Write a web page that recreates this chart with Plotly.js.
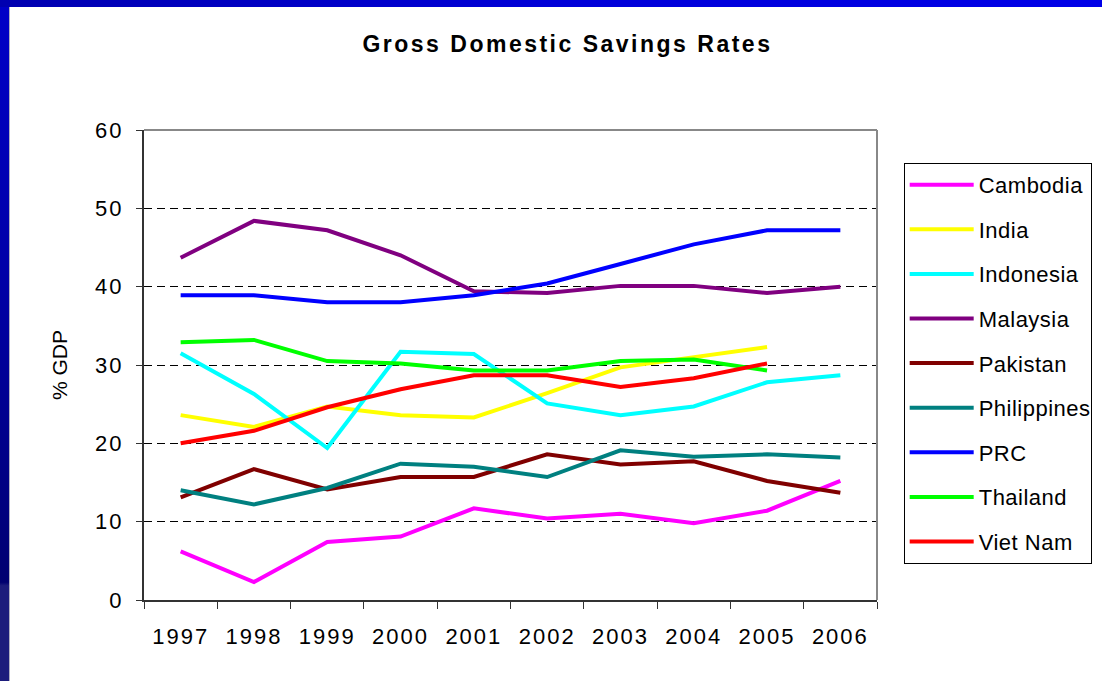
<!DOCTYPE html>
<html>
<head>
<meta charset="utf-8">
<script src="https://cdn.plot.ly/plotly-3.0.1.min.js"></script>
<style>
  html, body { margin: 0; padding: 0; width: 1102px; height: 681px; overflow: hidden; }
  body { background: linear-gradient(to bottom, #0000c8 0%, #0000a8 40%, #000078 80%, #000070 85.5%, #1c1c7c 86%, #1c1c7c 100%); position: relative; }
  #topband { position: absolute; left: 0; top: 0; width: 1102px; height: 7px; background: linear-gradient(to right, #0000b0 0%, #0000d8 50%, #0000e8 100%); }
  #chart { position: absolute; left: 9px; top: 7px; width: 1093px; height: 674px; background: #fff; border-left: 1px solid #b0b0c0; box-sizing: border-box; }
  #chart .xtick text, #chart .ytick text { letter-spacing: 2px; }
  #chart .gtitle { letter-spacing: 2.5px; }
  #chart .legendtext { letter-spacing: 0.5px; }
</style>
</head>
<body>
<div id="topband"></div>
<div id="chart"></div>
<script>
const years = ["1997","1998","1999","2000","2001","2002","2003","2004","2005","2006"];
const seriesNames = ["Cambodia","India","Indonesia","Malaysia","Pakistan","Philippines","PRC","Thailand","Viet Nam"];
const cambodia    = [6.2, 2.3, 7.4, 8.1, 11.7, 10.4, 11.0, 9.8, 11.4, 15.2];
const india       = [23.6, 22.1, 24.7, 23.6, 23.3, 26.4, 29.7, 31.0, 32.3, null];
const indonesia   = [31.5, 26.3, 19.4, 31.7, 31.4, 25.1, 23.6, 24.7, 27.8, 28.7];
const malaysia    = [43.7, 48.4, 47.2, 44.0, 39.4, 39.2, 40.1, 40.1, 39.2, 40.0];
const pakistan    = [13.1, 16.7, 14.1, 15.7, 15.7, 18.6, 17.3, 17.7, 15.2, 13.7];
const philippines = [14.0, 12.2, 14.3, 17.4, 17.0, 15.7, 19.1, 18.3, 18.6, 18.2];
const prc         = [38.9, 38.9, 38.0, 38.0, 38.9, 40.4, 42.9, 45.4, 47.2, 47.2];
const thailand    = [32.9, 33.2, 30.5, 30.2, 29.3, 29.3, 30.5, 30.7, 29.3, null];
const vietnam     = [20.0, 21.6, 24.6, 26.9, 28.7, 28.7, 27.2, 28.3, 30.2, null];
const seriesValues = [cambodia, india, indonesia, malaysia, pakistan, philippines, prc, thailand, vietnam];
const seriesColors = ["#FF00FF","#FFFF00","#00FFFF","#800080","#800000","#008080","#0000FF","#00FF00","#FF0000"];

const font = "Arial, 'Liberation Sans', sans-serif";

const traces = seriesNames.map((n, i) => ({
  type: "scatter",
  mode: "lines",
  name: n,
  x: years,
  y: seriesValues[i],
  legendgroup: "g" + i,
  line: { color: seriesColors[i], width: 4 },
  hoverinfo: "skip"
}));

const layout = {
  width: 1093,
  height: 674,
  paper_bgcolor: "#ffffff",
  plot_bgcolor: "#ffffff",
  margin: { l: 134, r: 225, t: 123, b: 81 },
  title: {
    text: "<b>Gross Domestic Savings Rates</b>",
    font: { family: font, size: 23, color: "#000" },
    xref: "container", x: 0.51, xanchor: "center",
    yref: "container", y: 0.945, yanchor: "middle"
  },
  showlegend: true,
  legend: {
    x: 1.035, xanchor: "left",
    y: 0.93, yanchor: "top",
    bordercolor: "#000", borderwidth: 1,
    bgcolor: "#fff",
    font: { family: font, size: 22, color: "#000" },
    tracegroupgap: 13,
    itemwidth: 64,
    traceorder: "grouped"
  },
  xaxis: {
    type: "category",
    range: [-0.5, 9.5],
    tickson: "boundaries",
    ticks: "outside", ticklen: 7, tickcolor: "#333", tickwidth: 1,
    ticklabelstandoff: 16,
    showline: true, linecolor: "#333", linewidth: 2,
    showgrid: false, zeroline: false,
    tickfont: { family: font, size: 22, color: "#000" },
    fixedrange: true
  },
  yaxis: {
    range: [0, 60], dtick: 10,
    ticks: "outside", ticklen: 6, tickcolor: "#333", tickwidth: 1,
    ticklabelstandoff: 8,
    showline: true, linecolor: "#333", linewidth: 2,
    showgrid: true, gridcolor: "#000", gridwidth: 1, griddash: "8px,5px",
    zeroline: false,
    tickfont: { family: font, size: 22, color: "#000" },
    title: { text: "% GDP", font: { family: font, size: 21, color: "#000" }, standoff: 26 },
    fixedrange: true
  },
  shapes: [
    { type: "line", xref: "paper", yref: "paper", x0: 0, x1: 1, y0: 1, y1: 1, line: { color: "#888", width: 2 } },
    { type: "line", xref: "paper", yref: "paper", x0: 1, x1: 1, y0: 0, y1: 1, line: { color: "#888", width: 2 } }
  ]
};

Plotly.newPlot("chart", traces, layout, { staticPlot: true, displayModeBar: false });
</script>
</body>
</html>
